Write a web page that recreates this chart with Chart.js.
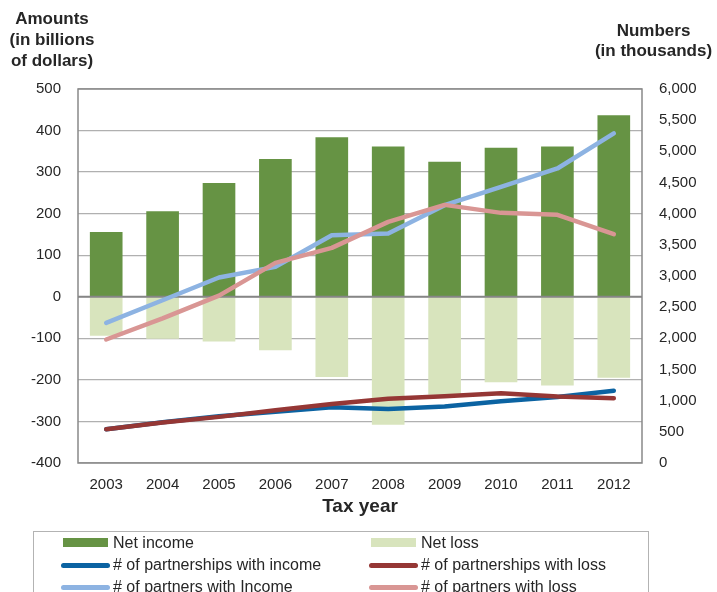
<!DOCTYPE html>
<html>
<head>
<meta charset="utf-8">
<script src="https://cdn.jsdelivr.net/npm/chart.js@4"></script>
<style>
    html, body { margin: 0; padding: 0; background: #fff; }
    body { width: 717px; height: 592px; position: relative; overflow: hidden; font-family: "Liberation Sans", Arial, sans-serif; color: #262626; }
    #wrap { position: absolute; left: 0; top: 0; width: 717px; height: 592px; }
    .axisTitle { position: absolute; font-weight: bold; font-size: 17px; line-height: 21px; text-align: center; }
    #leftTitle { left: 0; top: 8px; width: 104px; }
    #rightTitle { left: 590px; top: 21px; width: 127px; line-height: 20px; }
    #legend { position: absolute; left: 33px; top: 531px; width: 614px; height: 80px; border: 1px solid #b3b3b3; }
    .item { position: absolute; height: 22px; font-size: 16px; line-height: 22px; white-space: nowrap; }
    .swatch { position: absolute; top: 50%; }
    .label { position: absolute; top: 0; }
</style>
</head>
<body>
<div id="wrap"><canvas id="chart"></canvas></div>
<div class="axisTitle" id="leftTitle">Amounts<br>(in billions<br>of dollars)</div>
<div class="axisTitle" id="rightTitle">Numbers<br>(in thousands)</div>
<div id="legend"></div>
<script>
// Chart data
const years = ['2003', '2004', '2005', '2006', '2007', '2008', '2009', '2010', '2011', '2012'];
const netIncome = [155, 205, 273, 331, 383, 361, 324, 358, 361, 436];
const netLoss = [-93, -100, -107, -128, -192, -307, -235, -205, -213, -194];
const partnershipsIncome = [541, 655, 750, 822, 895, 868, 905, 990, 1060, 1158];
const partnershipsLoss = [541, 650, 740, 845, 945, 1030, 1070, 1120, 1065, 1040];
const partnersIncome = [2247, 2611, 2976, 3146, 3655, 3682, 4136, 4430, 4725, 5287];
const partnersLoss = [1981, 2320, 2685, 3210, 3451, 3868, 4141, 4013, 3981, 3671];

const FONT = '"Liberation Sans", Arial, sans-serif';
const TEXT = '#262626';

// Plot frame and zero axis line
const framePlugin = {
    id: 'frame',
    beforeDraw(chart) {
        chart._zeroDrawn = false;
    },
    beforeDatasetsDraw(chart) {
        const a = chart.chartArea;
        const ctx = chart.ctx;
        ctx.save();
        ctx.strokeStyle = '#898989';
        ctx.lineWidth = 1.5;
        ctx.strokeRect(a.left, a.top, a.right - a.left, a.bottom - a.top);
        ctx.restore();
    },
    beforeDatasetDraw(chart, args) {
        // 0 axis goes over the bars, under the lines
        if (args.meta.type !== 'line' || chart._zeroDrawn) return;
        chart._zeroDrawn = true;
        const a = chart.chartArea;
        const y = chart.scales.y.getPixelForValue(0);
        const ctx = chart.ctx;
        ctx.save();
        ctx.strokeStyle = '#868686';
        ctx.lineWidth = 2;
        ctx.beginPath();
        ctx.moveTo(a.left, y);
        ctx.lineTo(a.right, y);
        ctx.stroke();
        ctx.restore();
    }
};

const datasets = [
    { type: 'bar', label: 'Net income', data: netIncome, backgroundColor: '#669344', yAxisID: 'y', order: 4 },
    { type: 'bar', label: 'Net loss', data: netLoss, backgroundColor: '#d8e4bd', yAxisID: 'y', order: 5 },
    { type: 'line', label: '# of partnerships with income', data: partnershipsIncome, borderColor: '#0b63a2', yAxisID: 'y2', order: 3 },
    { type: 'line', label: '# of partnerships with loss', data: partnershipsLoss, borderColor: '#953735', yAxisID: 'y2', order: 2 },
    { type: 'line', label: '# of partners with Income', data: partnersIncome, borderColor: '#8db3e2', yAxisID: 'y2', order: 1 },
    { type: 'line', label: '# of partners with loss', data: partnersLoss, borderColor: '#d99694', yAxisID: 'y2', order: 0 }
];

datasets.forEach(ds => {
    if (ds.type === 'bar') {
        ds.grouped = false;
        ds.barThickness = 32;
        ds.borderWidth = 0;
    } else {
        ds.borderWidth = 4.5;
        ds.pointRadius = 0;
        ds.tension = 0;
        ds.borderCapStyle = 'round';
        ds.borderJoinStyle = 'round';
        ds.fill = false;
    }
});

const ctx = document.getElementById('chart').getContext('2d');
new Chart(ctx, {
    data: { labels: years, datasets: datasets },
    plugins: [framePlugin],
    options: {
        responsive: true,
        maintainAspectRatio: false,
        animation: false,
        layout: { padding: { top: 89, left: 0, right: 0, bottom: 69 } },
        plugins: {
            legend: { display: false },
            tooltip: { enabled: false }
        },
        scales: {
            x: {
                grid: { display: false },
                border: { display: false },
                ticks: { color: TEXT, font: { family: FONT, size: 15 }, padding: 5, maxRotation: 0 },
                title: { display: true, text: 'Tax year', color: TEXT, font: { family: FONT, size: 19, weight: 'bold' }, padding: { top: 0, bottom: 5 } },
                afterFit(scale) { scale.height = 60; }
            },
            y: {
                position: 'left',
                min: -400,
                max: 500,
                ticks: { stepSize: 100, color: TEXT, font: { family: FONT, size: 15 }, padding: 17 },
                grid: {
                    drawTicks: false,
                    color: '#b0b0b0',
                    lineWidth: 1.3
                },
                border: { display: false },
                afterFit(scale) { scale.width = 78; }
            },
            y2: {
                position: 'right',
                min: 0,
                max: 6000,
                ticks: {
                    stepSize: 500,
                    color: TEXT,
                    font: { family: FONT, size: 15 },
                    padding: 17,
                    callback: v => v.toLocaleString('en-US')
                },
                grid: { display: false, drawTicks: false },
                border: { display: false },
                afterFit(scale) { scale.width = 75; }
            }
        }
    }
});

// Build legend (two columns, row-major like the original)
function buildLegend() {
    const legend = document.getElementById('legend');
    const colLeft = [27, 335];
    const rowTop = [0, 22, 44];
    datasets.forEach((ds, i) => {
        const row = Math.floor(i / 2);
        const col = i % 2;
        const item = document.createElement('div');
        item.className = 'item';
        item.style.left = colLeft[col] + 'px';
        item.style.top = rowTop[row] + 'px';

        const sw = document.createElement('div');
        sw.className = 'swatch';
        if (ds.type === 'bar') {
            sw.style.left = '2px';
            sw.style.width = '45px';
            sw.style.height = '9px';
            sw.style.marginTop = '-5px';
            sw.style.background = ds.backgroundColor;
        } else {
            sw.style.left = '0px';
            sw.style.width = '49px';
            sw.style.height = '4.5px';
            sw.style.marginTop = '-2px';
            sw.style.borderRadius = '3px';
            sw.style.background = ds.borderColor;
        }
        const lb = document.createElement('div');
        lb.className = 'label';
        lb.style.left = '52px';
        lb.textContent = ds.label;

        item.appendChild(sw);
        item.appendChild(lb);
        legend.appendChild(item);
    });
}
buildLegend();
</script>
</body>
</html>
